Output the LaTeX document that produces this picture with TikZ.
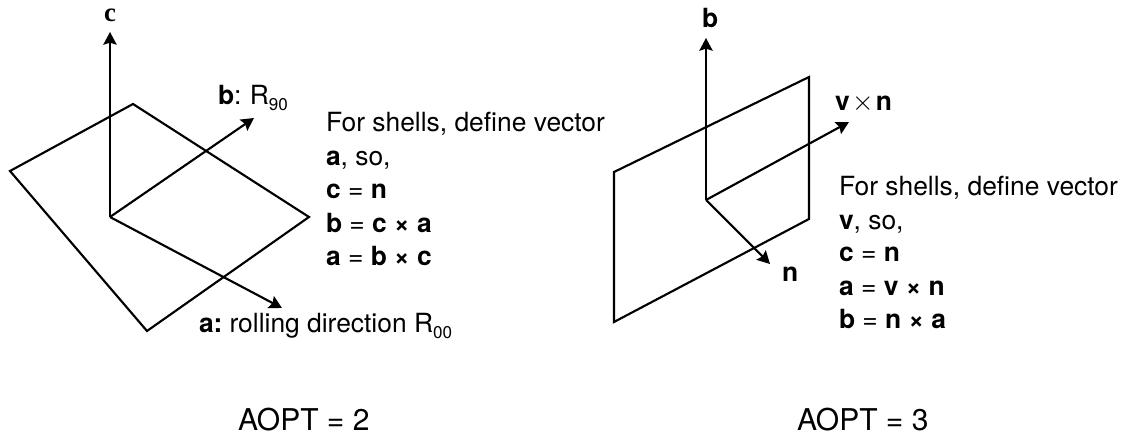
\documentclass[tikz,border=0pt]{standalone}
\usepackage{fontspec}
\setmainfont{TeX Gyre Heros}
\newfontfamily\serifbold{Liberation Serif}
\usetikzlibrary{arrows.meta}
\tikzset{
  edge/.style={line width=1.6pt,line join=miter},
  vec/.style={line width=1.6pt,-{Stealth[length=9.5pt,width=10pt,inset=1.5pt]}},
  txt/.style={anchor=base west,inner sep=0pt,outer sep=0pt,font=\fontsize{19.8}{22}\selectfont},
  big/.style={anchor=base west,inner sep=0pt,outer sep=0pt,font=\fontsize{22.5}{26}\selectfont},
}
\newcommand{\bb}[1]{\textbf{#1}}
\newcommand{\lsub}[1]{\raisebox{-0.22em}{\fontsize{12.8}{14}\selectfont #1}}
\begin{document}
\begin{tikzpicture}[x=0.75pt,y=-0.75pt]
\useasboundingbox (0,0) rectangle (1125,438);
% left
\coordinate (la) at (10,171);
\coordinate (lb) at (133,104);
\coordinate (lc) at (309,217);
\coordinate (ld) at (147,331);
\coordinate (lo) at (110,217);
\coordinate (lz) at (110,32);
\coordinate (ly) at (254,118);
\coordinate (lx) at (282,308);
\draw[edge] (la) -- (lb) -- (lc) -- (ld) -- cycle;
\draw[vec] (lo) -- (lz);
\draw[vec] (lo) -- (ly);
\draw[vec] (lo) -- (lx);
\node[anchor=base,inner sep=0pt] (lzl) at (110,22) {\fontsize{20}{22}\serifbold\bfseries c};
\node[txt] (lyl) at (218,105) {\bb{b}:\hspace{-1pt} R\lsub{90}};
\node[txt] (lxl) at (199,333) {\bb{a:}\hspace{-2pt} rolling direction R\lsub{00}};
\node[txt] (lt1) at (326,132) {For shells, define vector};
\node[txt] (lt2) at (326,166) {\bb{a}, so,};
\node[txt] (lt3) at (326,199) {\bb{c} = \bb{n}};
\node[txt] (lt4) at (326,233) {\bb{b} = \bb{c × a}};
\node[txt] (lt5) at (326,266) {\bb{a} = \bb{b × c}};
\node[big] (laopt) at (238,430) {AOPT = 2};
% right
\coordinate (ra) at (614,172);
\coordinate (rb) at (809,77);
\coordinate (rc) at (809,219);
\coordinate (rd) at (614,322);
\coordinate (ro) at (706,200);
\coordinate (rz) at (706,38);
\coordinate (ry) at (849,122);
\coordinate (rx) at (770,264);
\draw[edge] (ra) -- (rb) -- (rc) -- (rd) -- cycle;
\draw[vec] (ro) -- (rz);
\draw[vec] (ro) -- (ry);
\draw[vec] (ro) -- (rx);
\node[txt] (rzl) at (702,28) {\bb{b}};
\node[txt] (ryl) at (835,111) {\bb{v}\hspace{1.8pt}$\times$\hspace{1.8pt}\bb{n}};
\node[txt] (rxl) at (782,282) {\bb{n}};
\node[txt] (rt1) at (839,196) {For shells, define vector};
\node[txt] (rt2) at (839,230) {\bb{v}, so,};
\node[txt] (rt3) at (839,262) {\bb{c} = \bb{n}};
\node[txt] (rt4) at (839,296) {\bb{a} = \bb{v × n}};
\node[txt] (rt5) at (839,329) {\bb{b} = \bb{n × a}};
\node[big] (raopt) at (797,430) {AOPT = 3};
\end{tikzpicture}
\end{document}
